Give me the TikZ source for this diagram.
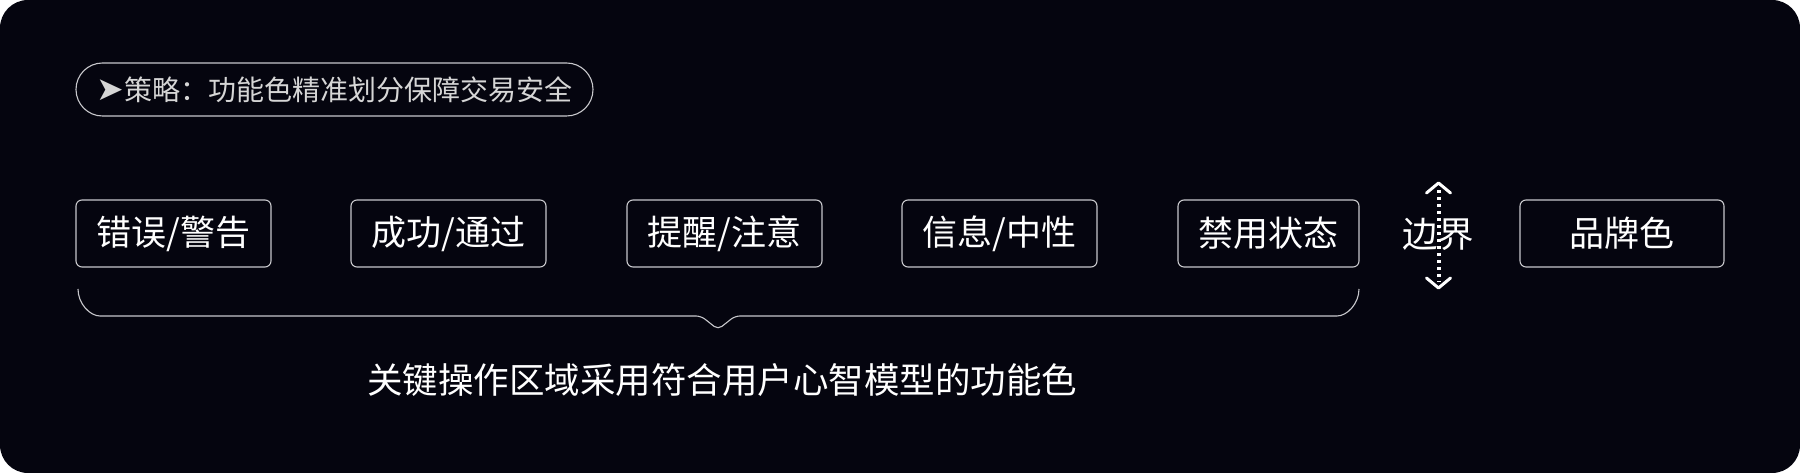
\documentclass[tikz,border=0pt]{standalone}
\usepackage{fontspec}
\newfontfamily\cjk{Noto Sans CJK SC}
\newfontfamily\djv{DejaVu Sans}
\definecolor{bgdark}{HTML}{05050F}
\definecolor{edgegrey}{HTML}{C8C8CC}
\definecolor{pilltext}{HTML}{D6D6D6}
\tikzset{
  catbox/.style={draw=edgegrey, line width=1.1pt, rounded corners=6pt, text=white,
    minimum height=67pt, inner sep=0pt, font=\cjk\fontsize{35}{40}\selectfont},
  pill/.style={draw=edgegrey, line width=1.1pt, rounded corners=26.5pt, text=pilltext,
    minimum width=517pt, minimum height=53pt, inner sep=0pt, font=\cjk\fontsize{28}{32}\selectfont},
  bigtext/.style={text=white, inner sep=0pt, font=\cjk\fontsize{35.5}{40}\selectfont},
  bracepath/.style={draw=edgegrey, line width=1.1pt},
  dotline/.style={white, line width=4pt, dash pattern=on 3.5pt off 3.5pt},
  chevron/.style={white, line width=3pt, line cap=round, line join=round}
}
\begin{document}
\begin{tikzpicture}[x=1pt,y=1pt]
\fill[white] (0,0) rectangle (1800,473);
\fill[bgdark, rounded corners=28pt] (0,0) rectangle (1800,473);
\useasboundingbox (0,0) rectangle (1800,473);

\node[pill] (strategy) at (334.5,383.5) {{\djv\fontsize{33}{32}\selectfont ➤}策略：功能色精准划分保障交易安全};

\node[catbox, minimum width=195pt] (err) at (173.5,239.5) {错误/警告};
\node[catbox, minimum width=195pt] (ok) at (448.5,239.5) {成功/通过};
\node[catbox, minimum width=195pt] (remind) at (724.5,239.5) {提醒/注意};
\node[catbox, minimum width=195pt] (info) at (999.5,239.5) {信息/中性};
\node[catbox, minimum width=181pt] (dis) at (1268.5,239.5) {禁用状态};
\node[catbox, minimum width=204pt] (brand) at (1622,239.5) {品牌色};

\node[bigtext] (edge) at (1438,239) {边界};
\coordinate (atop) at (1438.5,290);
\coordinate (abot) at (1438.5,185);
\draw[dotline] (1438.5,283) -- (1438.5,191);
\draw[chevron] (1426.5,280) -- (atop) -- (1450.5,280);
\draw[chevron] (1426.5,195) -- (abot) -- (1450.5,195);

\coordinate (bl) at (78,184);
\coordinate (br) at (1359,184);
\draw[bracepath, rounded corners=5pt] (bl) arc[start angle=180, end angle=270, radius=27]
  -- (701,157) -- (718,143.5) -- (735,157) -- (1332,157)
  arc[start angle=270, end angle=360, radius=27];

\node[bigtext] (caption) at (722,93) {关键操作区域采用符合用户心智模型的功能色};
\end{tikzpicture}
\end{document}
